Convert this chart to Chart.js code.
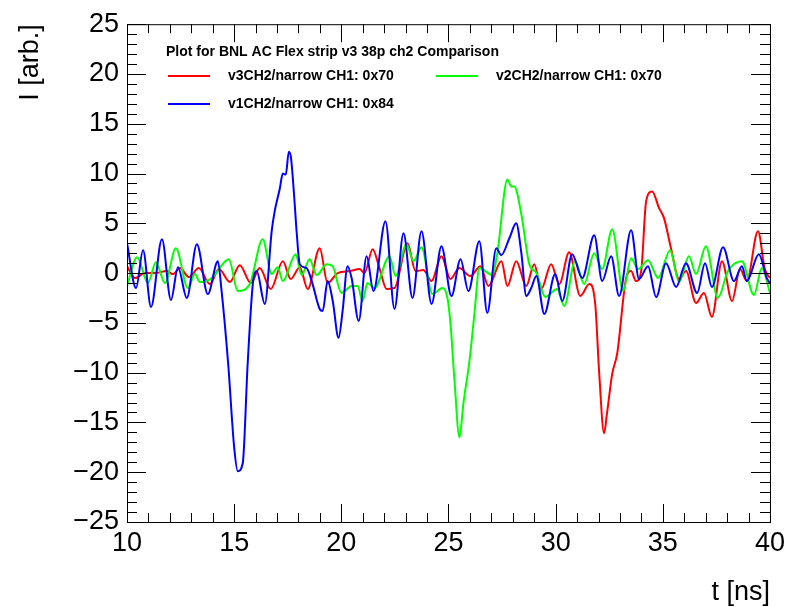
<!DOCTYPE html>
<html>
<head>
<meta charset="utf-8">
<script src="https://cdn.jsdelivr.net/npm/chart.js@4.4.0/dist/chart.umd.min.js"></script>
<style>
  html, body { margin: 0; padding: 0; background: #fff; }
  canvas { display: block; }
</style>
</head>
<body>
<canvas id="cmpGraph" width="790" height="607"></canvas>
<script>
// legend / axis text
const legendHeader = 'Plot for BNL AC Flex strip v3 38p ch2 Comparison';
const seriesLabels = ['v3CH2/narrow CH1: 0x70', 'v2CH2/narrow CH1: 0x70', 'v1CH2/narrow CH1: 0x84'];
const xTitle = 't [ns]';
const yTitle = 'I [arb.]';
const xTicks = [10, 15, 20, 25, 30, 35, 40];
const yTicks = [-25, -20, -15, -10, -5, 0, 5, 10, 15, 20, 25];

// v3 (red)
const tRed = [10.00, 10.37, 10.84, 11.30, 11.86, 12.14, 12.47, 12.89, 13.35, 13.87, 14.29, 14.80, 15.26, 15.78,
  16.19, 16.71, 17.27, 17.64, 18.06, 18.43, 18.99, 19.36, 19.83, 20.39, 20.85, 21.08, 21.46, 21.78, 22.11, 22.48,
  23.09, 23.46, 23.83, 24.21, 24.67, 25.09, 25.51, 26.02, 26.49, 26.86, 27.47, 27.75, 28.16, 28.63, 29.00, 29.33,
  29.79, 30.17, 30.63, 31.15, 31.57, 31.85, 32.03, 32.26, 32.40, 32.64, 32.87, 33.29, 33.52, 33.75, 33.99, 34.22,
  34.50, 34.83, 35.06, 35.38, 35.76, 36.08, 36.55, 36.92, 37.29, 37.76, 38.23, 38.60, 38.92, 39.44, 39.76, 40.00];
const iRed = [0.7, -0.5, 0.0, 0.0, 0.2, -0.1, 0.5, -0.4, 0.5, -1.1, 0.4, -0.9, 0.8, -1.0,
  0.5, -1.6, 1.2, -0.6, 0.6, -1.6, 2.5, -1.0, 0.0, 0.2, 0.4, 0.0, 2.4, 0.5, -1.6, -1.5,
  3.0, 0.2, 0.3, -0.8, 1.7, -0.6, 0.5, -0.3, 0.7, -1.3, 1.2, -1.3, 1.2, -1.3, 0.9, -1.6,
  0.9, -1.1, 2.1, -2.3, -1.1, -3.2, -10.0, -16.1, -14.0, -10.1, -8.1, -0.5, 0.2, -0.8, 0.2, 7.2,
  8.2, 6.5, 5.5, 2.5, -0.6, 0.2, -3.0, -2.0, -4.4, 1.2, -2.8, 0.4, -0.8, 4.2, 0.4, -0.5];

// v2 (green)
const tGreen = [10.00, 10.47, 10.98, 11.35, 11.77, 12.28, 12.84, 13.17, 13.40, 13.96, 14.75, 15.17, 15.73, 16.33,
  16.75, 17.03, 17.27, 17.87, 18.15, 18.52, 18.85, 19.32, 19.59, 20.01, 20.48, 20.76, 20.99, 21.22, 21.55, 22.25,
  22.53, 23.04, 23.37, 23.74, 24.25, 24.72, 24.95, 25.09, 25.28, 25.51, 25.70, 25.98, 26.21, 26.44, 27.05, 27.28,
  27.75, 27.93, 28.07, 28.40, 28.77, 29.10, 29.52, 30.07, 30.40, 30.91, 31.33, 31.80, 32.17, 32.64, 33.15, 33.52,
  33.85, 34.31, 34.78, 35.34, 35.76, 36.22, 36.55, 37.01, 37.57, 38.04, 38.69, 39.25, 39.62, 40.00];
const iGreen = [-1.3, 1.6, -1.0, 1.1, -1.0, 2.5, -1.5, -0.1, -0.9, -0.5, 1.4, -1.8, -1.1, 3.4,
  -0.1, 0.6, -0.8, 1.9, -0.2, 1.4, -0.2, 0.9, 0.7, -2.0, -1.3, -1.3, -2.8, -1.0, -1.5, 1.7,
  -0.3, 2.9, 1.2, 2.6, -2.1, -1.5, -2.5, -5.0, -10.8, -16.5, -13.0, -8.8, -4.1, 0.5, -0.2, 2.0,
  9.4, 8.7, 8.7, 5.9, 0.9, 0.0, -2.4, -1.6, -3.3, 1.2, -1.1, 2.0, 0.4, 4.4, -1.8, 1.5,
  0.4, 1.3, -0.5, 2.3, -0.9, 1.7, -0.1, 2.7, -2.5, 0.2, 1.2, -2.2, 0.5, -2.0];

// v1 (blue)
const tBlue = [10.00, 10.42, 10.75, 11.12, 11.63, 12.05, 12.38, 12.79, 13.26, 13.77, 14.24, 14.40, 14.72, 15.00,
  15.17, 15.40, 15.63, 15.87, 16.05, 16.43, 16.75, 16.89, 17.13, 17.27, 17.41, 17.55, 17.65, 17.79, 17.92, 18.06,
  18.38, 18.62, 18.99, 19.13, 19.36, 19.60, 19.87, 20.06, 20.29, 20.48, 20.81, 21.18, 21.50, 22.06, 22.48, 22.90,
  23.32, 23.74, 24.21, 24.67, 25.14, 25.56, 25.93, 26.44, 26.81, 27.23, 27.46, 27.84, 28.16, 28.40, 28.63, 28.86,
  29.10, 29.47, 29.98, 30.31, 30.77, 31.24, 31.80, 32.17, 32.59, 32.96, 33.52, 33.89, 34.31, 34.69, 35.15, 35.62,
  36.08, 36.60, 36.97, 37.29, 37.81, 38.32, 38.69, 38.92, 39.48, 39.85, 40.00];
const iBlue = [3.0, -1.5, 2.3, -3.4, 3.4, -2.7, 0.6, -2.5, 2.9, -2.1, 1.2, -1.5, -9.1, -17.5,
  -19.9, -19.1, -9.1, -1.1, 0.2, -3.1, 4.2, 6.2, 8.5, 10.0, 9.9, 12.2, 11.6, 8.0, 4.0, 0.9,
  0.5, -0.8, -3.6, -3.8, -0.8, -2.8, -6.5, -3.8, 0.7, -0.5, -4.8, 1.7, -1.8, 5.2, -3.6, 4.0,
  -2.5, 4.2, -3.1, 2.7, -2.3, 1.4, -1.8, 3.2, -4.0, 2.5, 1.8, 3.5, 5.0, 2.0, -2.3, -1.5,
  -0.3, -4.1, -0.1, -2.8, 1.9, -0.5, 3.8, -0.8, 1.7, -2.3, 4.3, -0.6, 0.7, -2.4, 1.0, -1.4,
  1.0, -2.0, 1.0, -1.4, 2.6, -0.8, 0.7, -0.8, 1.9, -0.5, -1.0];

const colors = ['#ff0000', '#00ff00', '#0000ff'];
const FONT = '"Liberation Sans", Arial, sans-serif';

function toPoints(ts, vals) {
    return ts.map((t, i) => ({ x: t, y: vals[i] }));
}

// ROOT-like frame: inward ticks on all sides, axis titles and the legend box
const rootFrame = {
    id: 'rootFrame',
    afterDraw(chart) {
        const { ctx, chartArea: a, scales: { x, y } } = chart;
        ctx.save();
        ctx.strokeStyle = '#000';
        ctx.lineWidth = 1;
        ctx.strokeRect(a.left + 0.5, a.top + 0.5, a.right - a.left, a.bottom - a.top);

        ctx.beginPath();
        for (let v = x.min; v <= x.max; v += 1) {
            const px = Math.round(x.getPixelForValue(v)) + 0.5;
            const len = v % 5 === 0 ? 18 : 9;
            ctx.moveTo(px, a.bottom); ctx.lineTo(px, a.bottom - len);
            ctx.moveTo(px, a.top); ctx.lineTo(px, a.top + len);
        }
        for (let v = y.min; v <= y.max; v += 1) {
            const py = Math.round(y.getPixelForValue(v)) + 0.5;
            const len = v % 5 === 0 ? 19 : 10;
            ctx.moveTo(a.left, py); ctx.lineTo(a.left + len, py);
            ctx.moveTo(a.right, py); ctx.lineTo(a.right - len, py);
        }
        ctx.stroke();

        // axis titles, right-aligned like ROOT
        ctx.fillStyle = '#000';
        ctx.font = '27px ' + FONT;
        ctx.textAlign = 'right';
        ctx.textBaseline = 'middle';
        ctx.fillText(xTitle, a.right, 593);
        ctx.save();
        ctx.translate(31, a.top);
        ctx.rotate(-Math.PI / 2);
        ctx.fillText(yTitle, 0, 0);
        ctx.restore();

        // legend
        ctx.textAlign = 'left';
        ctx.font = 'bold 14px ' + FONT;
        ctx.fillText(legendHeader, 166, 52);
        const slots = [[168, 76], [436, 76], [168, 104]];
        chart.data.datasets.forEach((ds, i) => {
            const [lx, ly] = slots[i];
            ctx.strokeStyle = ds.borderColor;
            ctx.lineWidth = 2;
            ctx.beginPath();
            ctx.moveTo(lx, ly); ctx.lineTo(lx + 42, ly);
            ctx.stroke();
            ctx.fillText(ds.label, lx + 60, ly);
        });
        ctx.restore();
    }
};

const ctx = document.getElementById('cmpGraph').getContext('2d');
new Chart(ctx, {
    type: 'line',
    data: {
        datasets: [
            { label: seriesLabels[0], data: toPoints(tRed, iRed), borderColor: colors[0], order: 3 },
            { label: seriesLabels[1], data: toPoints(tGreen, iGreen), borderColor: colors[1], order: 2 },
            { label: seriesLabels[2], data: toPoints(tBlue, iBlue), borderColor: colors[2], order: 1 }
        ].map(ds => Object.assign(ds, {
            borderWidth: 2,
            pointRadius: 0,
            fill: false,
            cubicInterpolationMode: 'monotone'
        }))
    },
    options: {
        responsive: false,
        animation: false,
        events: [],
        layout: { padding: { left: 0, right: 19, top: 22, bottom: 0 } },
        plugins: {
            legend: { display: false },
            tooltip: { enabled: false }
        },
        scales: {
            x: {
                type: 'linear',
                min: 10,
                max: 40,
                afterBuildTicks: s => { s.ticks = xTicks.map(v => ({ value: v })); },
                afterFit: s => { s.height = 85; },
                grid: { display: false, drawTicks: false },
                border: { display: false },
                ticks: {
                    autoSkip: false,
                    maxRotation: 0,
                    padding: 5,
                    color: '#000',
                    font: { family: FONT, size: 27 },
                    callback: v => String(v)
                }
            },
            y: {
                type: 'linear',
                min: -25,
                max: 25,
                afterBuildTicks: s => { s.ticks = yTicks.map(v => ({ value: v })); },
                afterFit: s => { s.width = 127; },
                grid: { display: false, drawTicks: false },
                border: { display: false },
                ticks: {
                    autoSkip: false,
                    padding: 8,
                    color: '#000',
                    font: { family: FONT, size: 27 },
                    callback: v => (v < 0 ? '\u2212' + Math.abs(v) : String(v))
                }
            }
        }
    },
    plugins: [rootFrame]
});
</script>
</body>
</html>
